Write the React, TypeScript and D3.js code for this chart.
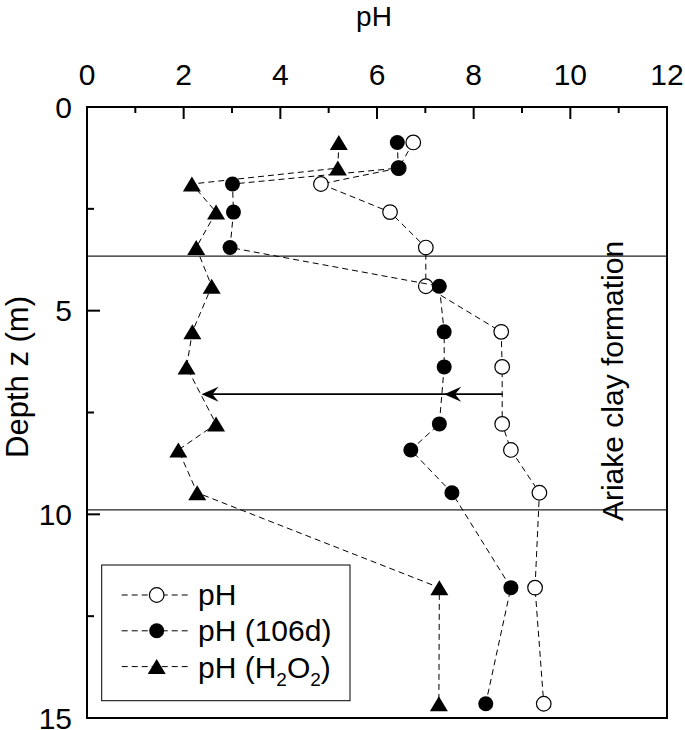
import React from "react";
import * as d3 from "d3";

const depths = [0.87, 1.5, 1.89, 2.58, 3.45, 4.4, 5.52, 6.38, 7.78, 8.42, 9.47, 11.8, 14.65];
const phInit = [6.75, 6.45, 4.84, 6.27, 7.01, 7.01, 8.57, 8.59, 8.59, 8.77, 9.36, 9.27, 9.45];
const ph106d = [6.42, 6.44, 3.01, 3.03, 2.96, 7.29, 7.39, 7.39, 7.29, 6.7, 7.55, 8.77, 8.25];
const phH2O2 = [5.21, 5.19, 2.17, 2.67, 2.26, 2.58, 2.18, 2.06, 2.67, 1.89, 2.28, 7.29, 7.28];
const xTicks = [0, 2, 4, 6, 8, 10, 12];
const xMinor = [1, 3, 5, 7, 9, 11];
const yTicks = [0, 5, 10, 15];
const yMinor = [2.5, 7.5, 12.5];
const boundaryDepths = [3.66, 9.89];
const arrowDepth = 7.05;
const arrowStops = [8.6, 7.39, 2.37];
const legendLabels = ["pH", "pH (106d)", "pH (H2O2)"];

const FONT = "'Liberation Sans', Arial, sans-serif";

const M = { left: 87, right: 667, top: 107, bottom: 718 };

function Triangle({ x, y }: { x: number; y: number }) {
  const w = 18, h = 15;
  return <path d={`M${x},${y - h / 2}L${x + w / 2},${y + h / 2}L${x - w / 2},${y + h / 2}Z`} fill="#000" />;
}

function Marker({ kind, x, y }: { kind: number; x: number; y: number }) {
  if (kind === 0) return <circle cx={x} cy={y} r={7.3} fill="#fff" stroke="#000" strokeWidth={1.2} />;
  if (kind === 1) return <circle cx={x} cy={y} r={7.5} fill="#000" />;
  return <Triangle x={x} y={y} />;
}

function ArrowHead({ x, y }: { x: number; y: number }) {
  return <path d={`M${x},${y}L${x + 17},${y - 7.5}L${x + 11},${y}L${x + 17},${y + 7.5}Z`} fill="#000" />;
}

export default function App() {
  const x = d3.scaleLinear().domain([0, 12]).range([M.left, M.right]);
  const y = d3.scaleLinear().domain([0, 15]).range([M.top, M.bottom]);
  const series = [phInit, ph106d, phH2O2];
  const line = d3
    .line<[number, number]>()
    .x((d) => x(d[0]))
    .y((d) => y(d[1]));

  const ay = y(arrowDepth);
  const legendBase = [605, 641, 678];

  return (
    <svg width={685} height={730} style={{ position: "absolute", left: 0, top: 0 }} fontFamily={FONT}>
      <rect width={685} height={730} fill="#fff" />
      {/* title */}
      <text x={(M.left + M.right) / 2 - 3} y={26} fontSize={28} textAnchor="middle">pH</text>
      {/* top tick labels */}
      {xTicks.map((t) => (
        <text key={t} x={x(t)} y={85} fontSize={30} textAnchor="middle">{t}</text>
      ))}
      {yTicks.map((t) => (
        <text key={t} x={72} y={y(t) + 10.8} fontSize={30} textAnchor="end">{t}</text>
      ))}
      {/* y label */}
      <text transform={`translate(28,377) rotate(-90)`} fontSize={31} textAnchor="middle">Depth z (m)</text>

      {/* ticks */}
      {xTicks.map((t) => (
        <line key={"xt" + t} x1={x(t)} x2={x(t)} y1={M.top} y2={M.top + 12} stroke="#000" strokeWidth={2} />
      ))}
      {xMinor.map((t) => (
        <line key={"xm" + t} x1={x(t)} x2={x(t)} y1={M.top} y2={M.top + 6} stroke="#000" strokeWidth={2} />
      ))}
      {yTicks.map((t) => (
        <line key={"yt" + t} x1={M.left} x2={M.left + 13} y1={y(t)} y2={y(t)} stroke="#000" strokeWidth={2} />
      ))}
      {yMinor.map((t) => (
        <line key={"ym" + t} x1={M.left} x2={M.left + 7} y1={y(t)} y2={y(t)} stroke="#000" strokeWidth={2} />
      ))}

      {/* boundary lines */}
      {boundaryDepths.map((d) => (
        <line key={"b" + d} x1={M.left} x2={M.right} y1={y(d)} y2={y(d)} stroke="#222" strokeWidth={1.2} />
      ))}

      {/* Ariake label */}
      <text transform={`translate(623,381) rotate(-90)`} fontSize={30} textAnchor="middle">Ariake clay formation</text>

      {/* arrows */}
      <line x1={x(arrowStops[0])} x2={x(arrowStops[2]) + 8} y1={ay} y2={ay} stroke="#000" strokeWidth={1.6} />
      <ArrowHead x={x(arrowStops[1])} y={ay} />
      <ArrowHead x={x(arrowStops[2])} y={ay} />

      {/* series */}
      {series.map((vals, si) => (
        <g key={"s" + si}>
          <path
            d={line(vals.map((v, i) => [v, depths[i]] as [number, number])) || ""}
            fill="none"
            stroke="#000"
            strokeWidth={1}
            strokeDasharray="6,4"
          />
          {vals.map((v, i) => (
            <Marker key={i} kind={si} x={x(v)} y={y(depths[i])} />
          ))}
        </g>
      ))}

      {/* frame */}
      <rect x={M.left} y={M.top} width={M.right - M.left} height={M.bottom - M.top} fill="none" stroke="#000" strokeWidth={2} />

      {/* legend */}
      <rect x={101.7} y={565} width={248.3} height={135.7} fill="#fff" stroke="#000" strokeWidth={1} />
      {legendLabels.map((lab, i) => {
        const cy = 595 + i * 35.8;
        return (
          <g key={"l" + i}>
            <line x1={121.7} x2={190} y1={cy} y2={cy} stroke="#000" strokeWidth={1} strokeDasharray="6,4" />
            <Marker kind={i} x={156.7} y={cy} />
            {lab === "pH (H2O2)" ? (
              <text x={198} y={legendBase[i]} fontSize={30}>
                pH (H
                <tspan fontSize={19} dy={8}>2</tspan>
                <tspan dy={-8}>O</tspan>
                <tspan fontSize={19} dy={8}>2</tspan>
                <tspan dy={-8}>)</tspan>
              </text>
            ) : (
              <text x={198} y={legendBase[i]} fontSize={30}>{lab}</text>
            )}
          </g>
        );
      })}
    </svg>
  );
}
